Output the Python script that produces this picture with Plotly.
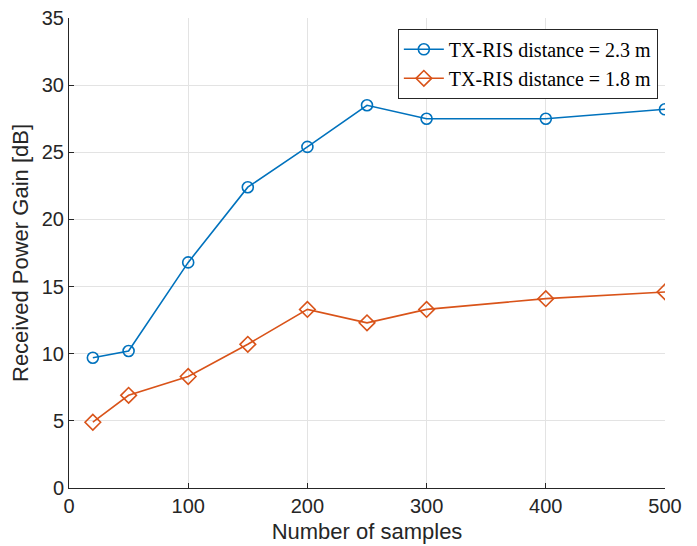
import plotly.graph_objects as go

samples = [20, 50, 100, 150, 200, 250, 300, 400, 500]
gain_23 = [9.7, 10.2, 16.8, 22.4, 25.4, 28.5, 27.5, 27.5, 28.2]
gain_18 = [4.9, 6.9, 8.3, 10.7, 13.3, 12.3, 13.3, 14.1, 14.6]
x_ticks = [0, 100, 200, 300, 400, 500]
y_ticks = [0, 5, 10, 15, 20, 25, 30, 35]

fig = go.Figure()
fig.add_trace(go.Scatter(
    x=samples, y=gain_23, mode="lines+markers",
    name="TX-RIS distance = 2.3 m",
    line=dict(color="#0072BD", width=1.6),
    marker=dict(symbol="circle-open", size=11, color="#0072BD", line=dict(width=1.6)),
))
fig.add_trace(go.Scatter(
    x=samples, y=gain_18, mode="lines+markers",
    name="TX-RIS distance = 1.8 m",
    line=dict(color="#D95319", width=1.6),
    marker=dict(symbol="diamond-open", size=12, color="#D95319", line=dict(width=1.6)),
))

axis_common = dict(
    showgrid=True, gridcolor="#E3E3E3", gridwidth=1,
    showline=True, linecolor="#262626", linewidth=1,
    ticks="inside", ticklen=5, tickcolor="#262626",
    tickfont=dict(family="Liberation Sans, Arial", size=20, color="#262626"),
    zeroline=False, mirror=False, automargin=False,
)

fig.update_layout(
    width=697, height=546,
    margin=dict(l=69, r=32, t=18, b=58),
    paper_bgcolor="white", plot_bgcolor="white",
    xaxis=dict(range=[0, 500], tickvals=x_ticks,
               title=dict(text="Number of samples", standoff=7,
                          font=dict(family="Liberation Sans, Arial", size=22, color="#262626")),
               **axis_common),
    yaxis=dict(range=[0, 35], tickvals=y_ticks,
               title=dict(text="Received Power Gain [dB]", standoff=7,
                          font=dict(family="Liberation Sans, Arial", size=22, color="#262626")),
               **axis_common),
    legend=dict(
        x=0.988, y=0.977, xanchor="right", yanchor="top",
        bgcolor="white", bordercolor="#262626", borderwidth=1,
        font=dict(family="Liberation Serif, DejaVu Serif", size=20, color="black"),
        tracegroupgap=0, itemwidth=40,
    ),
    showlegend=True,
)

fig.write_html("out.html", config={"displayModeBar": False},
               post_script="document.body.style.margin='0';")
